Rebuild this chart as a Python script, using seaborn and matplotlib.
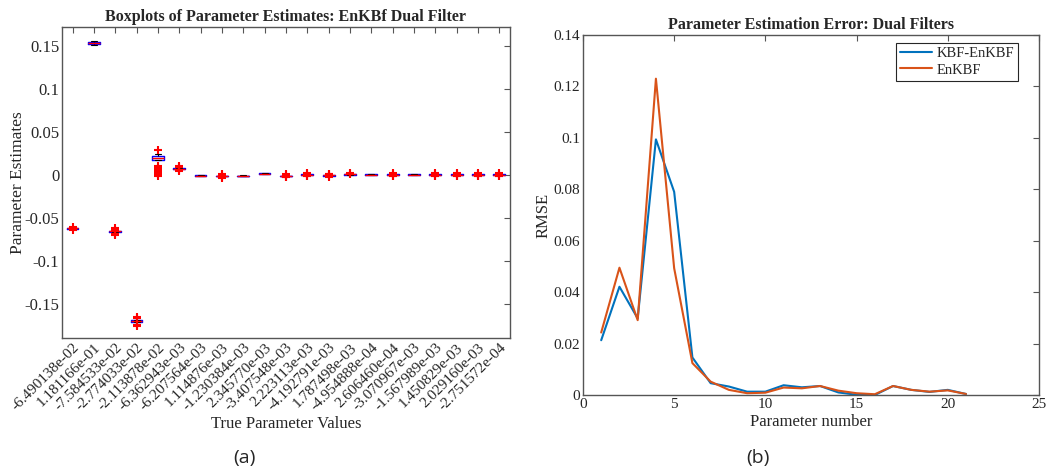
import numpy as np
import pandas as pd
import matplotlib
matplotlib.use("Agg")
import matplotlib.pyplot as plt
import seaborn as sns

# ---------------- data ----------------
true_labels = ["-6.490138e-02", "1.181166e-01", "-7.584533e-02", "-2.774033e-02",
               "-2.113878e-02", "-6.362943e-03", "-6.207564e-03", "1.114876e-03",
               "-1.230384e-03", "2.345770e-03", "-3.407548e-03", "2.223113e-03",
               "-4.192791e-03", "1.787498e-03", "-4.954888e-04", "2.606460e-04",
               "-3.070967e-03", "-1.567989e-03", "1.450829e-03", "2.029160e-03",
               "-2.751572e-04"]

est_p01 = [-0.0640, -0.0630, -0.0628, -0.0626, -0.0625, -0.0624, -0.0622, -0.0620, -0.0605]
est_p02 = [0.1502, 0.1515, 0.1522, 0.1527, 0.1530, 0.1533, 0.1537, 0.1545, 0.1558]
est_p03 = [-0.0705, -0.0685, -0.0662, -0.0660, -0.0659, -0.0658, -0.0656, -0.0640, -0.0625]
est_p04 = [-0.1760, -0.1745, -0.1712, -0.1706, -0.1702, -0.1698, -0.1694, -0.1665, -0.1650]
est_p05 = [-0.0010, 0.0005, 0.0020, 0.0035, 0.0050, 0.0065, 0.0080, 0.0095,
           0.0175, 0.0180, 0.0183, 0.0186, 0.0189, 0.0191, 0.0193, 0.0195,
           0.0197, 0.0199, 0.0201, 0.0203, 0.0205, 0.0207, 0.0209, 0.0212,
           0.0215, 0.0218, 0.0220, 0.0222, 0.0225, 0.0228, 0.0232, 0.0238, 0.0290]
est_p06 = [0.0045, 0.0055, 0.0068, 0.0070, 0.0071, 0.0072, 0.0074, 0.0090, 0.0105]
est_p07 = [-0.0016, -0.0014, -0.0012, -0.0011, -0.0010, -0.0009, -0.0008, -0.0006, -0.0004]
est_p08 = [-0.0035, -0.0025, -0.0017, -0.0016, -0.0015, -0.0014, -0.0013, -0.0005, 0.0002]
est_p09 = [-0.0017, -0.0015, -0.0014, -0.0013, -0.0012, -0.0011, -0.0010, -0.0009, -0.0007]
est_p10 = [0.0007, 0.0009, 0.0010, 0.0011, 0.0012, 0.0013, 0.0014, 0.0015, 0.0017]
est_p11 = [-0.0032, -0.0024, -0.0014, -0.0013, -0.0012, -0.0011, -0.0010, 0.0000, 0.0005]
est_p12 = [-0.0016, -0.0010, -0.0002, -0.0001, 0.0000, 0.0001, 0.0002, 0.0010, 0.0016]
est_p13 = [-0.0026, -0.0018, -0.0010, -0.0009, -0.0008, -0.0007, -0.0006, 0.0002, 0.0008]
est_p14 = [-0.0006, -0.0002, 0.0000, 0.0001, 0.0002, 0.0003, 0.0004, 0.0012, 0.0020]
est_p15 = [-0.0004, -0.0003, -0.0002, -0.0001, 0.0000, 0.0001, 0.0002, 0.0003, 0.0004]
est_p16 = [-0.0015, -0.0010, -0.0002, -0.0001, 0.0000, 0.0001, 0.0002, 0.0010, 0.0015]
est_p17 = [-0.0004, -0.0003, -0.0002, -0.0001, 0.0000, 0.0001, 0.0002, 0.0003, 0.0004]
est_p18 = [-0.0015, -0.0010, -0.0002, -0.0001, 0.0000, 0.0001, 0.0002, 0.0010, 0.0015]
est_p19 = [-0.0015, -0.0010, -0.0002, -0.0001, 0.0000, 0.0001, 0.0002, 0.0010, 0.0015]
est_p20 = [-0.0015, -0.0010, -0.0002, -0.0001, 0.0000, 0.0001, 0.0002, 0.0010, 0.0015]
est_p21 = [-0.0015, -0.0010, -0.0002, -0.0001, 0.0000, 0.0001, 0.0002, 0.0010, 0.0015]

estimates = [est_p01, est_p02, est_p03, est_p04, est_p05, est_p06, est_p07,
             est_p08, est_p09, est_p10, est_p11, est_p12, est_p13, est_p14,
             est_p15, est_p16, est_p17, est_p18, est_p19, est_p20, est_p21]

param_number = list(range(1, 22))
rmse_kbf_enkbf = [0.0213, 0.0421, 0.0298, 0.0994, 0.0790, 0.0146, 0.0046, 0.0033,
                  0.0013, 0.0013, 0.0038, 0.0030, 0.0035, 0.0010, 0.0001, 0.0000,
                  0.0035, 0.0020, 0.0012, 0.0020, 0.0004]
rmse_enkbf = [0.0243, 0.0495, 0.0291, 0.1230, 0.0493, 0.0124, 0.0052, 0.0020,
              0.0007, 0.0009, 0.0029, 0.0026, 0.0035, 0.0017, 0.0007, 0.0003,
              0.0035, 0.0020, 0.0013, 0.0018, 0.0004]
series_names = ["KBF-EnKBF", "EnKBF"]
series_colors = ["#0072BD", "#D95319"]

# ---------------- style ----------------
SERIF = ["Liberation Serif", "DejaVu Serif"]
sns.set_style("white")
plt.rcParams["font.family"] = SERIF
plt.rcParams["font.serif"] = SERIF
plt.rcParams["axes.edgecolor"] = "#555555"
plt.rcParams["axes.linewidth"] = 1.0
plt.rcParams["xtick.color"] = "#555555"
plt.rcParams["ytick.color"] = "#555555"
plt.rcParams["xtick.labelcolor"] = "#262626"
plt.rcParams["ytick.labelcolor"] = "#262626"
plt.rcParams["xtick.direction"] = "in"
plt.rcParams["ytick.direction"] = "in"
plt.rcParams["axes.unicode_minus"] = False

fig = plt.figure(figsize=(10.5, 4.75), dpi=100)
ax1 = fig.add_axes([0.0590, 0.2880, 0.4267, 0.6560])
ax2 = fig.add_axes([0.5552, 0.1684, 0.4343, 0.7580])

# ---------------- left: boxplots ----------------
rows = []
for lab, vals in zip(true_labels, estimates):
    for v in vals:
        rows.append((lab, v))
df_box = pd.DataFrame(rows, columns=["true", "estimate"])

sns.boxplot(data=df_box, x="true", y="estimate", order=true_labels, ax=ax1,
            fill=False, color="blue", linecolor="blue", width=0.55, linewidth=1.0,
            whis=1.5,
            medianprops=dict(color="red", linewidth=1.0),
            whiskerprops=dict(color="black", linestyle="--", linewidth=0.8),
            capprops=dict(color="black", linewidth=0.8),
            flierprops=dict(marker="+", markeredgecolor="red", markerfacecolor="red",
                            markersize=5.5, markeredgewidth=1.5))

ax1.set_xlim(-0.5, len(true_labels) - 0.5)
ax1.set_ylim(-0.19, 0.172)
ax1.set_yticks([-0.15, -0.1, -0.05, 0, 0.05, 0.1, 0.15])
ax1.set_yticklabels(["-0.15", "-0.1", "-0.05", "0", "0.05", "0.1", "0.15"],
                    fontfamily=SERIF, fontsize=12)
ax1.set_xticks(range(len(true_labels)))
ax1.set_xticklabels(true_labels, rotation=45, ha="right", rotation_mode="anchor",
                    fontsize=11, fontfamily=SERIF)
ax1.tick_params(top=True, right=True, length=4, width=0.8, pad=2)
ax1.set_title("Boxplots of Parameter Estimates: EnKBf Dual Filter",
              fontsize=11.5, fontweight="bold", pad=4, fontfamily=SERIF)
ax1.set_xlabel("True Parameter Values", fontsize=12, color="#262626", labelpad=2,
               fontfamily=SERIF)
ax1.set_ylabel("Parameter Estimates", fontsize=12.5, color="#262626",
               fontfamily=SERIF)
ax1.yaxis.set_label_coords(-0.080, 0.5)
for s in ax1.spines.values():
    s.set_visible(True)

# ---------------- right: RMSE lines ----------------
df_line = pd.DataFrame({
    "param": param_number * 2,
    "rmse": rmse_kbf_enkbf + rmse_enkbf,
    "series": [series_names[0]] * len(param_number) + [series_names[1]] * len(param_number),
})
sns.lineplot(data=df_line, x="param", y="rmse", hue="series", hue_order=series_names,
             palette=series_colors, linewidth=1.5, ax=ax2)

ax2.set_xlim(0, 25)
ax2.set_ylim(0, 0.14)
ax2.set_xticks([0, 5, 10, 15, 20, 25])
ax2.set_xticklabels(["0", "5", "10", "15", "20", "25"], fontfamily=SERIF, fontsize=11)
ax2.set_yticks([0, 0.02, 0.04, 0.06, 0.08, 0.1, 0.12, 0.14])
ax2.set_yticklabels(["0", "0.02", "0.04", "0.06", "0.08", "0.1", "0.12", "0.14"],
                    fontfamily=SERIF, fontsize=11)
ax2.tick_params(top=True, right=True, length=4, width=0.8, pad=2)
ax2.set_title("Parameter Estimation Error: Dual Filters", fontsize=11.5,
              fontweight="bold", pad=4, fontfamily=SERIF)
ax2.set_xlabel("Parameter number", fontsize=12, color="#262626", labelpad=2,
               fontfamily=SERIF)
ax2.set_ylabel("RMSE", fontsize=12, color="#262626", fontfamily=SERIF)
ax2.yaxis.set_label_coords(-0.068, 0.5)
for s in ax2.spines.values():
    s.set_visible(True)
leg = ax2.legend(title=None, loc="upper right", bbox_to_anchor=(0.955, 0.978),
                 frameon=True, fancybox=False, edgecolor="#262626", framealpha=1,
                 borderaxespad=0.0, handlelength=2.2, borderpad=0.3,
                 labelspacing=0.2, handletextpad=0.3,
                 prop=dict(family=SERIF, size=10.5))
leg.get_frame().set_linewidth(0.8)

# ---------------- captions ----------------
fig.text(0.233, 0.035, "(a)", ha="center", va="center", fontsize=14,
         family=["Open Sans", "DejaVu Sans"], color="#262626")
fig.text(0.722, 0.035, "(b)", ha="center", va="center", fontsize=14,
         family=["Open Sans", "DejaVu Sans"], color="#262626")

fig.savefig("out.png", dpi=100)
